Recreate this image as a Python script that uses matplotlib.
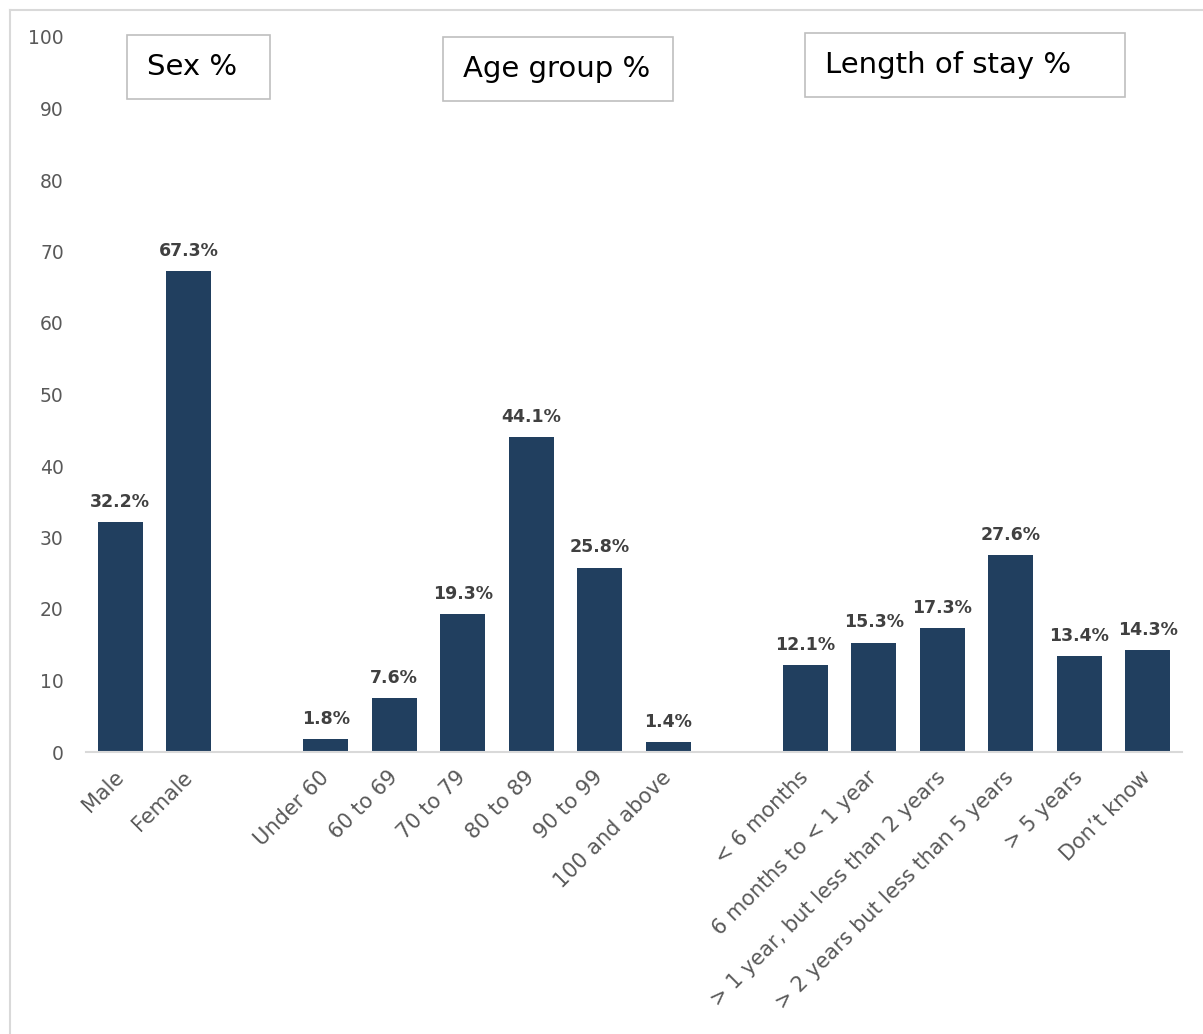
import matplotlib.pyplot as plt
from matplotlib.patches import Rectangle
from matplotlib.lines import Line2D

# ---------------- data ----------------
sex_labels = ["Male", "Female"]
sex_values = [32.2, 67.3]

age_labels = ["Under 60", "60 to 69", "70 to 79", "80 to 89", "90 to 99", "100 and above"]
age_values = [1.8, 7.6, 19.3, 44.1, 25.8, 1.4]

stay_labels = ["< 6 months", "6 months to < 1 year", "> 1 year, but less than 2 years",
               "> 2 years but less than 5 years", "> 5 years", "Don\u2019t know"]
stay_values = [12.1, 15.3, 17.3, 27.6, 13.4, 14.3]

group_titles = ["Sex %", "Age group %", "Length of stay %"]

bar_color = "#213F5F"
W, H = 1203, 1034

# one empty slot between groups
labels, values, xpos = [], [], []
pos = 0
for labs, vals in [(sex_labels, sex_values), (age_labels, age_values), (stay_labels, stay_values)]:
    for l, v in zip(labs, vals):
        labels.append(l)
        values.append(v)
        xpos.append(pos)
        pos += 1
    pos += 1
n_slots = pos - 1

fig = plt.figure(figsize=(W / 100, H / 100), dpi=100)
ax = fig.add_axes([86 / W, 1 - 752 / H, (1182 - 86) / W, (752 - 37) / H])

ax.bar(xpos, values, width=0.66, color=bar_color, zorder=2)
for x, v in zip(xpos, values):
    ax.annotate(f"{v:.1f}%", (x, v), xytext=(0, 8), textcoords="offset points",
                ha="center", va="bottom", fontsize=12.5, fontweight="bold", color="#404040")

ax.set_xlim(-0.5, n_slots - 0.5)
ax.set_ylim(0, 100)
ax.set_yticks(range(0, 101, 10))
ax.set_xticks(xpos)
ax.set_xticklabels(labels, rotation=45, ha="right", va="center", rotation_mode="anchor")
ax.tick_params(axis="x", length=0, pad=16, labelsize=15, labelcolor="#595959")
ax.tick_params(axis="y", length=0, pad=16, labelsize=13.5, labelcolor="#595959")
for s in ["top", "right", "left"]:
    ax.spines[s].set_visible(False)
ax.spines["bottom"].set_color("#D9D9D9")
ax.spines["bottom"].set_linewidth(1.5)

# group title boxes (pixel boxes from the layout)
boxes = [(127, 35, 270, 99), (443, 37, 673, 101), (805, 33, 1125, 97)]
for title, (x0, y0, x1, y1) in zip(group_titles, boxes):
    fig.patches.append(Rectangle((x0 / W, 1 - y1 / H), (x1 - x0) / W, (y1 - y0) / H,
                                 transform=fig.transFigure, fill=False,
                                 edgecolor="#BFBFBF", linewidth=1.2))
    fig.text((x0 + 20) / W, 1 - (y0 + y1) / 2 / H, title, fontsize=21,
             ha="left", va="center", color="black")

# outer chart border
fig.lines.append(Line2D([10 / W, 10 / W], [0, 1 - 10 / H], transform=fig.transFigure,
                        color="#D9D9D9", linewidth=1.5))
fig.lines.append(Line2D([10 / W, 1], [1 - 10 / H, 1 - 10 / H], transform=fig.transFigure,
                        color="#D9D9D9", linewidth=1.5))

fig.savefig("out.png", dpi=100)
